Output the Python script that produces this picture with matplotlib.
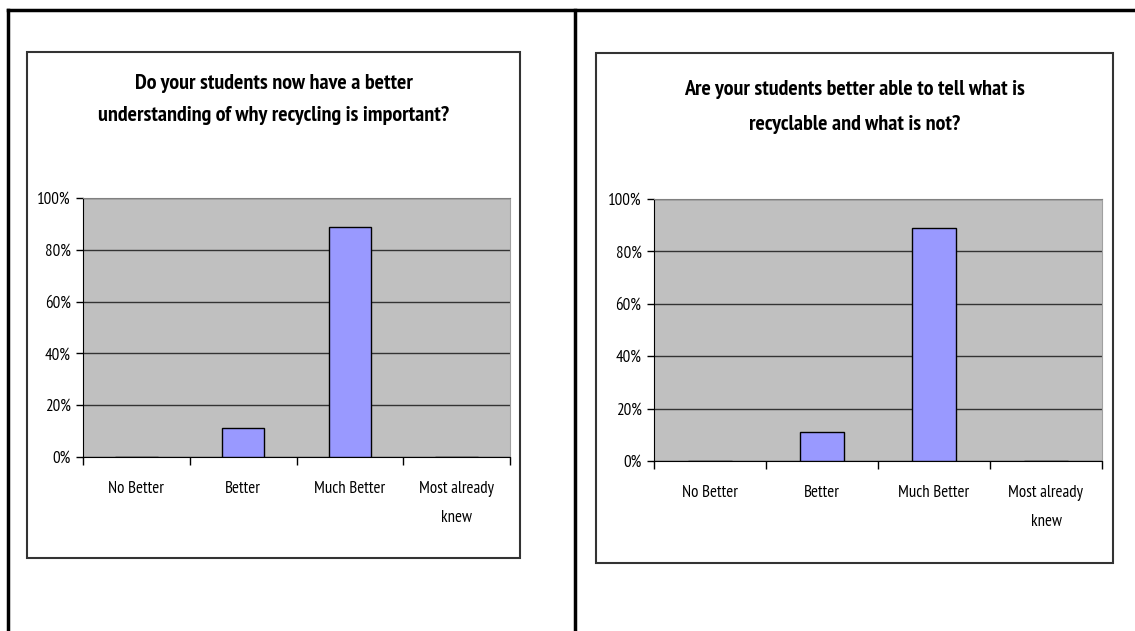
import matplotlib.pyplot as plt
from matplotlib import font_manager
from matplotlib.patches import Rectangle
from matplotlib.lines import Line2D
from matplotlib.ticker import FuncFormatter

categories = ['No Better', 'Better', 'Much Better', 'Most already\nknew']
understanding = [0.0, 11.1, 88.9, 0.0]
recyclable = [0.0, 11.1, 88.9, 0.0]
titles = ['Do your students now have a better\nunderstanding of why recycling is important?',
          'Are your students better able to tell what is\nrecyclable and what is not?']
y_ticks = [0, 20, 40, 60, 80, 100]

# pick a narrow sans that has a real bold face
faces = {}
for f in font_manager.fontManager.ttflist:
    faces.setdefault(f.name, set()).add(f.weight)
fam = 'Liberation Sans'
for cand in ['Liberation Sans Narrow', 'Nimbus Sans Narrow', 'PT Sans Narrow',
             'Roboto Condensed', 'Asap Condensed', 'Barlow Semi Condensed']:
    if cand in faces and any(w in (700, 'bold') for w in faces[cand]):
        fam = cand
        break
plt.rcParams['font.family'] = [fam, 'DejaVu Sans']

W, H = 1135, 631
fig = plt.figure(figsize=(W / 100, H / 100), dpi=100)
renderer = fig.canvas.get_renderer()


def fit_size(text, target_px, weight='normal'):
    t = fig.text(0, 0, text, fontsize=10, fontweight=weight)
    w = t.get_window_extent(renderer).width
    t.remove()
    return 10 * target_px / w


title_size = fit_size('Do your students now have a better', 278, 'bold')
tick_size = fit_size('No Better', 56)


def fx(px):
    return px / W


def fy(py):
    return 1 - py / H


# table lines
for xs, ys in [([8, 1133], [10, 10]), ([8, 8], [10, 631]), ([575, 575], [10, 631])]:
    fig.add_artist(Line2D([fx(x) for x in xs], [fy(y) for y in ys], color='black', lw=2.5))

panels = [
    # box (x0, y0, x1, y1), plot area (x0, y0, x1, y1), title centre y, title line spacing
    ((27, 52, 520, 558), (83, 198, 510, 457), 99.5, 1.85, understanding, titles[0]),
    ((596, 53, 1113, 563), (654, 199, 1102, 461), 107, 2.05, recyclable, titles[1]),
]

for box, area, ty, tls, values, title in panels:
    bx0, by0, bx1, by1 = box
    fig.add_artist(Rectangle((fx(bx0), fy(by1)), fx(bx1 - bx0), (by1 - by0) / H,
                             transform=fig.transFigure, fill=False, ec='#333333', lw=1.5))
    fig.text(fx((bx0 + bx1) / 2), fy(ty), title, ha='center', va='center',
             fontsize=title_size, fontweight='bold', linespacing=tls)

    ax0, ay0, ax1, ay1 = area
    ax = fig.add_axes([fx(ax0), fy(ay1), fx(ax1 - ax0), (ay1 - ay0) / H])
    ax.set_facecolor('#C0C0C0')
    x = range(len(categories))
    ax.bar(x, values, width=0.4, color='#9999FF', edgecolor='black', lw=1, zorder=3)
    ax.set_xlim(-0.5, len(categories) - 0.5)
    ax.set_ylim(0, 100)
    ax.set_yticks(y_ticks)
    ax.yaxis.set_major_formatter(FuncFormatter(lambda v, p: f'{v:.0f}%'))
    ax.yaxis.grid(True, color='#333333', lw=1, zorder=1)
    ax.set_axisbelow(True)
    ax.tick_params(axis='y', direction='out', length=5, width=1, pad=4,
                   labelsize=tick_size)

    ax.set_xticks([i - 0.5 for i in range(len(categories) + 1)])
    ax.set_xticklabels([])
    ax.set_xticks(list(x), minor=True)
    ax.set_xticklabels(categories, minor=True, linespacing=2.15, va='top')
    ax.tick_params(axis='x', which='major', direction='out', length=6, width=1)
    ax.tick_params(axis='x', which='minor', length=0, pad=17, labelsize=tick_size)

    ax.spines['top'].set_color('#808080')
    ax.spines['right'].set_color('#A0A0A0')
    for s in ['left', 'bottom']:
        ax.spines[s].set_color('black')

fig.savefig('out.png', dpi=100)
